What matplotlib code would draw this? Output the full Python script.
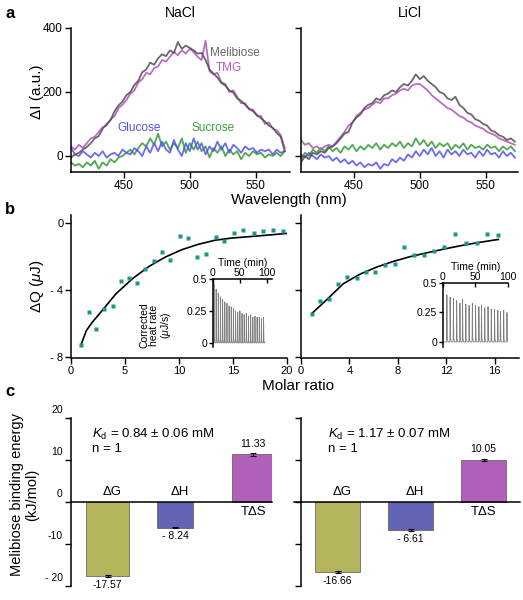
import numpy as np
import matplotlib
matplotlib.use("Agg")
import matplotlib.pyplot as plt
from matplotlib.transforms import ScaledTranslation

plt.rcParams['font.family'] = ['Liberation Sans', 'DejaVu Sans']
plt.rcParams['mathtext.fontset'] = 'custom'
plt.rcParams['mathtext.rm'] = 'Liberation Sans'
plt.rcParams['mathtext.it'] = 'Liberation Sans:italic'
plt.rcParams['axes.linewidth'] = 1.1

# ---------------- data ----------------
# a: emission difference spectra (every 3 nm)
wavelength = np.arange(410, 573, 3)

na_melibiose = [-5, 5, 10, 20, 28, 40, 55, 62, 85, 100, 112,
                140, 158, 170, 190, 200, 222, 235, 262, 270, 292, 285,
                305, 318, 312, 330, 322, 356, 335, 345, 338, 330, 320,
                322, 300, 270, 258, 245, 228, 220, 205, 198, 180, 172,
                160, 148, 140, 128, 118, 108, 95, 88, 72, 60, 15]
na_tmg = [30, 20, 35, 25, 40, 55, 60, 75, 90, 95, 115,
          125, 150, 160, 175, 195, 205, 230, 240, 260, 255, 275,
          280, 300, 295, 310, 325, 315, 330, 320, 335, 325, 310,
          300, 360, 265, 255, 260, 230, 225, 200, 205, 185, 165,
          165, 145, 145, 125, 125, 100, 105, 85, 80, 65, 25]
na_glucose = [25, 5, 0, 15, 5, -5, 10, 0, 15, -5, 5,
              10, 0, 20, 10, 5, 25, 15, 0, 30, 10, 40,
              15, 45, 20, 10, 50, 20, 0, 40, 15, 55, 20,
              40, 5, 30, 15, 45, 20, 40, 10, 35, 25, 10,
              30, 20, 25, 10, 20, 15, 20, 5, 20, 10, 15]
na_sucrose = [-20, -30, -25, -35, -20, -30, -15, -40, -20, -30, -10,
              -20, -5, 0, 10, 20, 5, 25, 40, 30, 55, 35,
              70, 30, 45, 20, 40, 25, 55, 10, 40, 20, 45,
              15, 30, -5, 25, 10, 30, 0, 20, 5, 15, -10,
              10, 0, 15, 5, 10, -5, 5, 0, 10, 0, 15]

li_melibiose = [-20, 0, -10, 10, 5, 15, 10, 25, 30, 40, 55,
                70, 75, 105, 120, 130, 150, 160, 165, 180, 175, 190,
                195, 205, 200, 215, 225, 220, 235, 255, 240, 250, 235,
                225, 215, 200, 195, 180, 175, 185, 160, 150, 135, 130,
                115, 110, 100, 95, 80, 75, 65, 60, 50, 55, 45]
li_tmg = [50, 35, 40, 25, 30, 20, 30, 35, 30, 45, 60,
          75, 95, 105, 125, 135, 145, 150, 160, 170, 165, 180,
          180, 190, 195, 205, 210, 205, 220, 225, 225, 215, 205,
          190, 180, 170, 160, 150, 145, 135, 125, 120, 110, 105,
          95, 90, 85, 75, 70, 65, 55, 50, 45, 40, 35]
li_glucose = [5, -5, 10, 0, -10, 5, -5, 0, -15, -5, -20,
              -10, -25, -15, -30, -20, -35, -25, -30, -20, -40, -25,
              -30, -10, -20, -5, -15, 5, -5, 15, 0, 20, 5,
              25, 0, 15, -5, 20, 5, 15, 0, 20, 5, 10,
              -5, 15, 0, 20, 5, 10, -5, 15, 0, 10, -5]
li_sucrose = [-10, 10, 0, 20, 10, 25, 15, 30, 15, 25, 10,
              30, 20, 35, 15, 30, 20, 35, 25, 40, 20, 35,
              25, 40, 30, 45, 25, 40, 30, 55, 35, 50, 30,
              45, 25, 40, 30, 40, 20, 35, 25, 40, 20, 35,
              25, 30, 20, 35, 25, 30, 15, 30, 20, 30, 15]

# b: ITC integrated heats and fits
ratio_na = [0.91, 1.64, 2.35, 3.1, 3.87, 4.6, 5.4, 6.1, 6.85, 7.7, 8.44, 9.2,
            10.05, 10.8, 11.7, 12.5, 13.4, 14.2, 15.1, 15.97, 16.9, 17.75, 18.7, 19.65]
dq_na = [-7.3, -5.33, -6.31, -5.11, -4.95, -3.44, -3.26, -3.58, -2.75, -2.29, -1.75, -2.19,
         -0.76, -0.9, -2.0, -1.83, -0.86, -1.09, -0.62, -0.4, -0.6, -0.5, -0.43, -0.47]
fit_na_x = [0.91, 1.43, 2.0, 2.65, 4.17, 5.70, 7.22, 8.74, 10.27, 11.79, 13.31, 14.84, 17.88, 20.0]
fit_na_y = [-7.3, -6.41, -5.9, -5.41, -4.22, -3.32, -2.59, -2.03, -1.59, -1.27, -1.03, -0.90, -0.74, -0.62]

ratio_li = [0.88, 1.57, 2.31, 3.03, 3.83, 4.6, 5.37, 6.14, 6.94, 7.74,
            8.5, 9.33, 10.16, 10.98, 11.83, 12.72, 13.62, 14.5, 15.39, 16.24]
dq_li = [-5.41, -4.68, -4.54, -3.66, -3.23, -3.31, -2.95, -2.91, -2.49, -2.43,
         -1.43, -1.93, -1.91, -1.65, -1.43, -0.66, -1.19, -1.19, -0.66, -0.72]
fit_li_x = [0.88, 2.12, 3.5, 4.88, 6.25, 7.63, 9.0, 10.38, 11.76, 13.13, 14.51, 16.3]
fit_li_y = [-5.41, -4.58, -3.62, -3.05, -2.63, -2.29, -2.01, -1.78, -1.56, -1.36, -1.18, -0.98]

# b insets: raw heat rate peaks
inj_time_na = [2, 6, 10, 14, 18, 22, 26, 30, 34, 38, 42, 46,
               50, 54, 58, 62, 66, 70, 74, 78, 82, 86, 90, 94]
peak_na = [0.46, 0.42, 0.39, 0.36, 0.34, 0.32, 0.31, 0.29, 0.28, 0.27, 0.25, 0.24,
           0.25, 0.23, 0.22, 0.23, 0.21, 0.22, 0.20, 0.21, 0.20, 0.20, 0.19, 0.20]
inj_time_li = [6, 11, 16, 21, 26, 30, 35, 40, 45, 50, 55, 59, 64, 69, 74, 79, 84, 88, 93, 98]
peak_li = [0.40, 0.38, 0.37, 0.35, 0.33, 0.36, 0.32, 0.31, 0.33, 0.31,
           0.30, 0.31, 0.29, 0.30, 0.28, 0.28, 0.27, 0.26, 0.27, 0.25]

# c: thermodynamic parameters
terms = ['ΔG', 'ΔH', 'TΔS']
energy_na = [-17.57, -6.1, 11.33]
energy_na_err = [0.25, 0.2, 0.3]
energy_na_text = ['-17.57', '- 8.24', '11.33']
energy_li = [-16.66, -6.61, 10.05]
energy_li_err = [0.2, 0.25, 0.3]
energy_li_text = ['-16.66', '- 6.61', '10.05']

# ---------------- figure ----------------
W, H = 523, 600
fig = plt.figure(figsize=(W / 100, H / 100), dpi=100)


def place(x0, y0, x1, y1):
    # pixel box -> figure fraction
    return [x0 / W, 1 - y1 / H, (x1 - x0) / W, (y1 - y0) / H]


def style(ax, size=8.5, pad=2):
    ax.spines['top'].set_visible(False)
    ax.spines['right'].set_visible(False)
    ax.tick_params(direction='out', length=4, width=1, labelsize=size, pad=pad)


GRAY = '#4f4f4f'
MAGENTA = '#b45cbc'
BLUE = '#5252f0'
GREEN = '#3f9e3f'
TEAL = '#1f968b'

# ---- a
ax_a1 = fig.add_axes(place(71, 28, 290, 172))
ax_a2 = fig.add_axes(place(301, 28, 518, 172))
spectra = [(ax_a1, na_melibiose, na_tmg, na_glucose, na_sucrose, 'NaCl', 576),
           (ax_a2, li_melibiose, li_tmg, li_glucose, li_sucrose, 'LiCl', 574.4)]
for ax, mel, tmg, glc, suc, title, xmax in spectra:
    ax.plot(wavelength, suc, color=GREEN, lw=1.3, alpha=0.9)
    ax.plot(wavelength, glc, color=BLUE, lw=1.3, alpha=0.85)
    ax.plot(wavelength, tmg, color=MAGENTA, lw=1.3, alpha=0.9)
    ax.plot(wavelength, mel, color=GRAY, lw=1.3, alpha=0.85)
    ax.set_xlim(410, xmax)
    ax.set_ylim(-50, 400)
    ax.set_xticks([450, 500, 550])
    ax.set_yticks([0, 200, 400])
    style(ax)
    ax.set_title(title, fontsize=10, pad=8)
ax_a2.set_yticklabels([])
ax_a1.text(515, 322, 'Melibiose', color='#666666', fontsize=8.5, va='center')
ax_a1.text(520, 275, 'TMG', color=MAGENTA, fontsize=8.5, va='center')
ax_a1.text(445, 88, 'Glucose', color=BLUE, fontsize=8.5, va='center')
ax_a1.text(501, 88, 'Sucrose', color=GREEN, fontsize=8.5, va='center')
fig.text(37 / W, 1 - 92 / H, 'ΔI (a.u.)', rotation=90, fontsize=11, ha='center', va='center')
fig.text(289 / W, 1 - 200 / H, 'Wavelength (nm)', fontsize=11, ha='center', va='center')

# ---- b
ax_b1 = fig.add_axes(place(71, 215, 287, 358))
ax_b2 = fig.add_axes(place(301, 215, 519, 358))
itc = [(ax_b1, ratio_na, dq_na, fit_na_x, fit_na_y, 20, [0, 5, 10, 15, 20]),
       (ax_b2, ratio_li, dq_li, fit_li_x, fit_li_y, 18, [0, 4, 8, 12, 16])]
for ax, x, y, fx, fy, xmax, xt in itc:
    ax.plot(fx, fy, color='black', lw=1.2, zorder=2)
    ax.plot(x, y, 's', color=TEAL, ms=3.3, mec='none', zorder=3)
    ax.set_xlim(0, xmax)
    ax.set_ylim(-8.06, 0.48)
    ax.set_xticks(xt)
    ax.set_yticks([0, -4, -8])
    style(ax, 8, 1.5)
ax_b1.set_yticklabels(['0', '- 4', '- 8'])
ax_b2.set_yticklabels([])
fig.text(37 / W, 1 - 286 / H, r'ΔQ ($\mu$J)', rotation=90, fontsize=11, ha='center', va='center')
fig.text(298 / W, 1 - 386 / H, 'Molar ratio', fontsize=11, ha='center', va='center')


def heat_trace(times, peaks):
    t, q = [0], [0]
    for ti, hi in zip(times, peaks):
        t += [ti, ti + 0.4, ti + 1.0, ti + 2.2]
        q += [0, hi, 0.08 * hi, 0]
    t.append(times[-1] + 3)
    q.append(0)
    return t, q


ins1 = fig.add_axes(place(212.7, 279, 272, 346.7))
ins2 = fig.add_axes(place(442.7, 283, 508, 346.7))
for ax, times, peaks, xmax, ymin in [(ins1, inj_time_na, peak_na, 110, -0.03),
                                     (ins2, inj_time_li, peak_li, 100, -0.04)]:
    t, q = heat_trace(times, peaks)
    ax.plot(t, q, color='#808080', lw=0.6)
    ax.set_facecolor('none')
    ax.set_xlim(0, xmax)
    ax.set_ylim(ymin, 0.5)
    for s in ('bottom', 'right'):
        ax.spines[s].set_visible(False)
    ax.xaxis.tick_top()
    ax.xaxis.set_label_position('top')
    ax.set_xticks([0, 50, 100])
    ax.set_yticks([0, 0.25, 0.5])
    ax.set_yticklabels(['0', '0.25', '0.5'])
    ax.tick_params(axis='x', direction='in', length=3, width=1, labelsize=7.5, pad=1)
    ax.tick_params(axis='y', direction='out', length=3, width=1, labelsize=7.5, pad=1)
    ax.set_xlabel('Time (min)', fontsize=7.5, labelpad=1)
fig.text(156 / W, 1 - 325 / H, 'Corrected\nheat rate\n' + r'($\mu$J/s)', rotation=90,
         fontsize=7.5, ha='center', va='center', linespacing=1.0)

# ---- c
ax_c1 = fig.add_axes(place(71, 418, 272, 587.3))
ax_c2 = fig.add_axes(place(301, 418, 520, 587.3))
bar_colors = ['#b4b45c', '#6464b6', '#b060b8']
energy = [(ax_c1, energy_na, energy_na_err, energy_na_text, '0.84 ± 0.06', [0, 0.93, 2],
           [0.59, 0.49, 0.59], (-0.503, 2.26), 0.104),
          (ax_c2, energy_li, energy_li_err, energy_li_text, '1.17 ± 0.07', [0, 1, 2],
           [0.62, 0.62, 0.62], (-0.5, 2.5), 0.123)]
for ax, vals, errs, texts, kd, xpos, widths, xl, kx in energy:
    ax.bar(xpos, vals, width=widths, color=bar_colors, edgecolor='#555555', lw=0.5,
           yerr=errs, error_kw=dict(ecolor='black', elinewidth=0.8, capsize=2, capthick=0.8),
           zorder=2)
    ax.axhline(0, xmin=-0.03 if ax is ax_c2 else 0, xmax=1, color='black', lw=1.1,
               clip_on=False, zorder=3)
    for xp, v, e, term, txt in zip(xpos, vals, errs, terms, texts):
        if v < 0:
            ax.annotate(term, (xp, 0), xytext=(3, 3), textcoords='offset points',
                        ha='center', va='bottom', fontsize=9.5)
            ax.annotate(txt, (xp, v - e), xytext=(0, -2), textcoords='offset points',
                        ha='center', va='top', fontsize=7.5)
        else:
            ax.annotate(term, (xp, 0), xytext=(0, -3), textcoords='offset points',
                        ha='center', va='top', fontsize=9.5)
            ax.annotate(txt, (xp, v + e), xytext=(0, 3), textcoords='offset points',
                        ha='center', va='bottom', fontsize=7.5)
    ax.text(kx, 0.882, r'$K_{\rm d}$ = ' + kd + ' mM', transform=ax.transAxes,
            fontsize=9.5, va='baseline')
    ax.text(kx, 0.80, 'n = 1', transform=ax.transAxes, fontsize=9.5, va='baseline')
    ax.set_xlim(*xl)
    ax.set_ylim(-20.3, 20)
    ax.spines['bottom'].set_visible(False)
    ax.set_xticks([])
    ax.set_yticks([20, 10, 0, -10, -20])
    style(ax, 7.5)
    ax.spines['left'].set_bounds(-20, 20)
ax_c1.set_yticklabels(['20', '10', '0', '-10', '- 20'])
ax_c2.set_yticklabels([])
shift = ScaledTranslation(0, 9 / 100, fig.dpi_scale_trans)
for tick in ax_c1.yaxis.get_major_ticks():
    tick.label1.set_transform(tick.label1.get_transform() + shift)
fig.text(25 / W, 1 - 495 / H, 'Melibiose binding energy\n(kJ/mol)', rotation=90,
         fontsize=10.5, ha='center', va='center', linespacing=1.1)

# panel letters
for letter, y in [('a', 13), ('b', 210), ('c', 392)]:
    fig.text(5 / W, 1 - y / H, letter, fontsize=12, fontweight='bold', ha='left', va='center')

fig.savefig('out.png', dpi=100)
